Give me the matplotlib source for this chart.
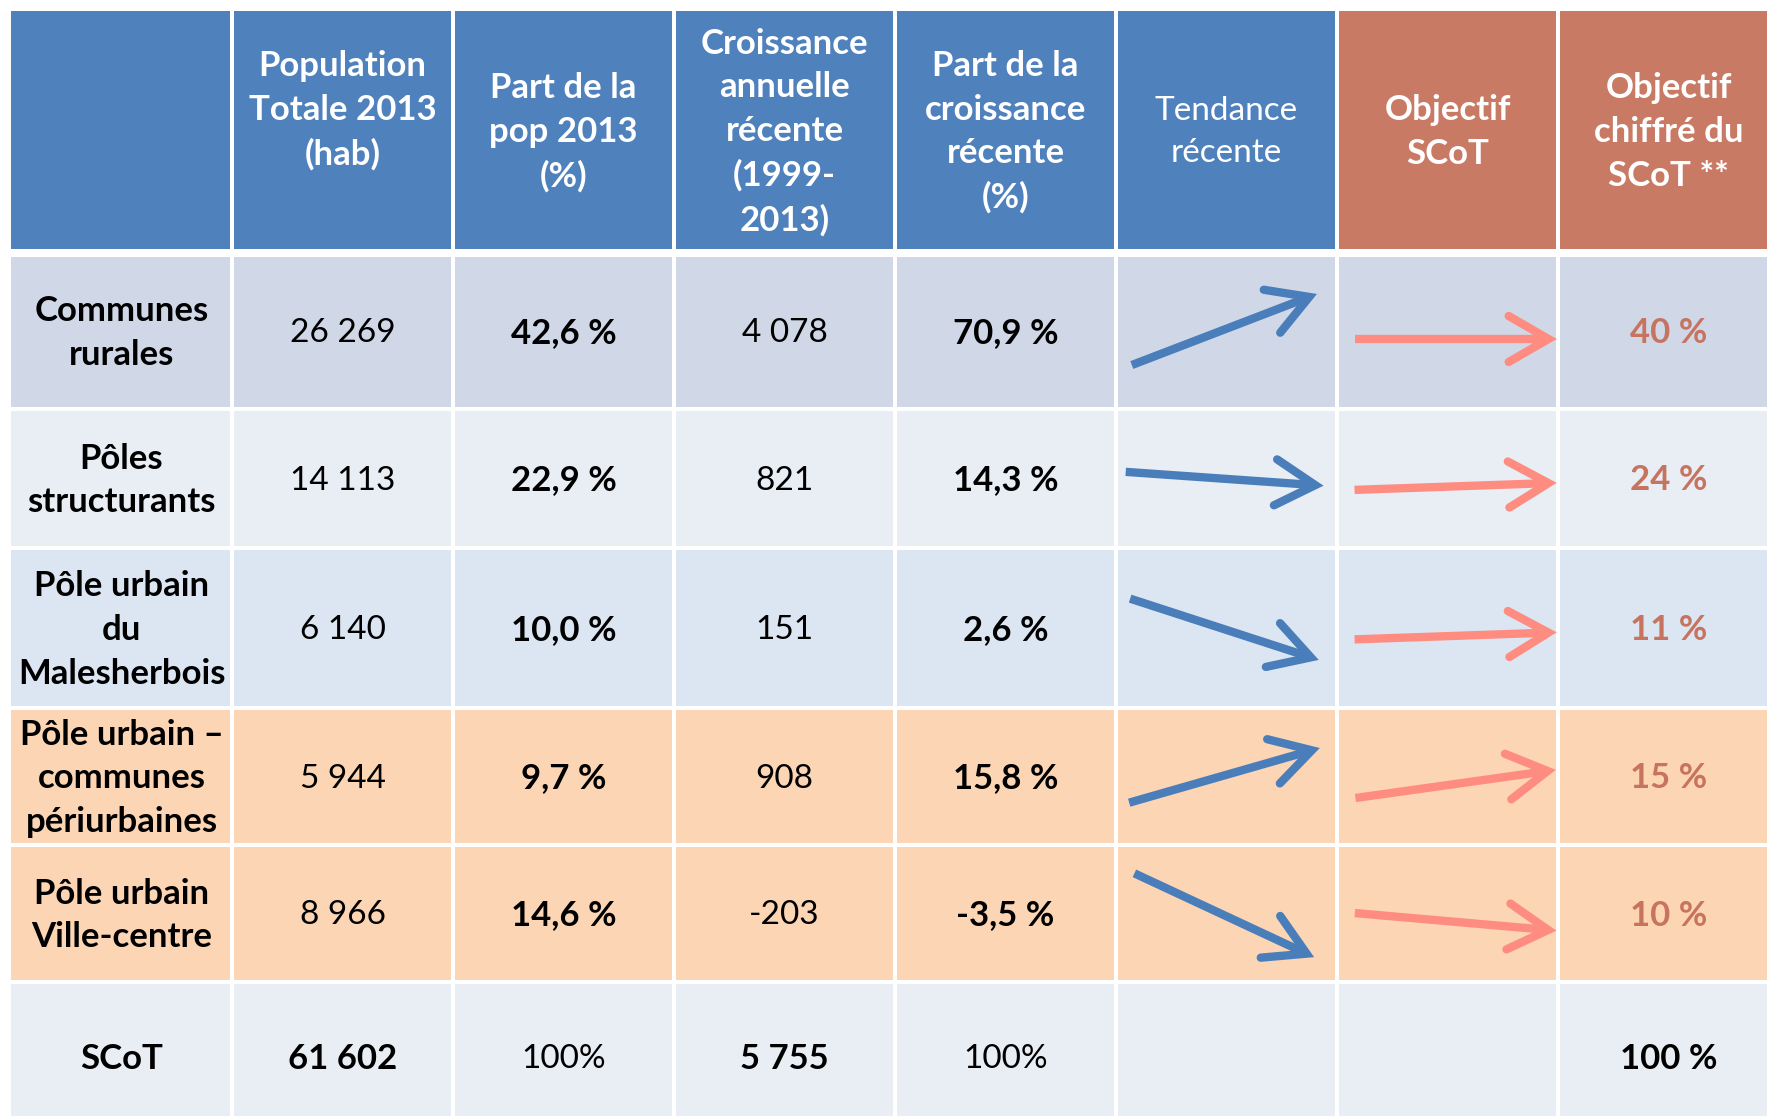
import numpy as np
import matplotlib
matplotlib.use("Agg")
import matplotlib.pyplot as plt
from matplotlib.patches import Rectangle

plt.rcParams['font.family'] = ['Lato', 'DejaVu Sans']

# ---- data ----
headers = ["", "Population\nTotale 2013\n(hab)\n", "Part de la\npop 2013\n(%)",
           "Croissance\nannuelle\nrécente\n(1999-\n2013)", "Part de la\ncroissance\nrécente\n(%)",
           "Tendance\nrécente", "Objectif\nSCoT", "Objectif\nchiffré du\nSCoT **"]
categories = ["Communes\nrurales", "Pôles\nstructurants", "Pôle urbain\ndu\nMalesherbois",
              "Pôle urbain –\ncommunes\npériurbaines", "Pôle urbain\nVille-centre", "SCoT"]
population = [26269, 14113, 6140, 5944, 8966, 61602]
part_pop = [42.6, 22.9, 10.0, 9.7, 14.6, 100]
croissance = [4078, 821, 151, 908, -203, 5755]
part_croissance = [70.9, 14.3, 2.6, 15.8, -3.5, 100]
objectif = [40, 24, 11, 15, 10, 100]
# arrow direction in degrees (recent trend / SCoT objective)
tendance_angle = [21, -4, -18, 16, -25]
objectif_angle = [0, 2, 2, 8, -5]

# ---- style ----
blue_head = '#4F81BD'
red_head = '#C97A65'
row_colors = ['#D0D8E8', '#E9EDF4', '#DCE6F2', '#FCD5B5', '#FCD5B5', '#E9EDF4']
arrow_blue = '#4A7EBB'
arrow_red = '#FF8C80'
obj_color = '#C6745F'
fs_b = 25
fs_r = 24
ls = 1.45

W, H = 1767, 1116
x0, col_w = 11, 221
row_h = [242, 156, 139, 160, 137, 137, 150]
gap = 3.5

fig = plt.figure(figsize=(W / 100, H / 100), dpi=100)
ax = fig.add_axes([0, 0, 1, 1])
ax.set_xlim(0, W)
ax.set_ylim(H, 0)
ax.axis('off')

tops = 11 + np.concatenate([[0], np.cumsum(row_h)[:-1]])


def fmt_int(v):
    return f"{v:,}".replace(",", " ")


def fmt_pct(v):
    return f"{v:.1f}".replace(".", ",") + " %"


def arrow(cx, cy, angle, length, color, lw):
    a = np.radians(angle)
    u = np.array([np.cos(a), -np.sin(a)])
    c = np.array([cx, cy])
    tail = c - u * length / 2
    tip = c + u * length / 2
    ax.plot([tail[0], tip[0] - u[0] * 5], [tail[1], tip[1] - u[1] * 5],
            color=color, lw=lw, solid_capstyle='butt', zorder=3)
    hl, ang = 46, np.radians(30)
    pts = []
    for s in (1, -1):
        r = np.array([[np.cos(s * ang), -np.sin(s * ang)], [np.sin(s * ang), np.cos(s * ang)]])
        pts.append(tip - hl * (r @ u))
    ax.plot([pts[0][0], tip[0], pts[1][0]], [pts[0][1], tip[1], pts[1][1]],
            color=color, lw=lw, solid_capstyle='round', solid_joinstyle='miter', zorder=3)


for r in range(7):
    top = tops[r]
    h = row_h[r]
    gtop = gap if r != 1 else 7
    for c in range(8):
        left = x0 + c * col_w
        if r == 0:
            fc = red_head if c >= 6 else blue_head
        else:
            fc = row_colors[r - 1]
        ax.add_patch(Rectangle((left + (0 if c == 0 else gap / 2), top + (0 if r == 0 else gtop / 2)),
                               col_w - (gap / 2 if c == 0 else gap),
                               h - (gtop / 2 if r > 0 else 0) - gap / 2 - (2 if r == 0 else 0),
                               facecolor=fc, edgecolor='none', zorder=1))

# header
for c, txt in enumerate(headers):
    ax.text(x0 + (c + 0.5) * col_w, tops[0] + row_h[0] / 2, txt, ha='center', va='center',
            multialignment='center', color='white',
            linespacing=ls * fs_b / fs_r if c == 5 else ls,
            fontsize=fs_r if c == 5 else fs_b,
            fontweight='normal' if c == 5 else 'bold', zorder=4)

# body
for i in range(6):
    cy = tops[i + 1] + row_h[i + 1] / 2 + 2
    last = i == 5
    cells = [
        (categories[i], 'bold', 'black'),
        (fmt_int(population[i]), 'bold' if last else 'normal', 'black'),
        ("100%" if last else fmt_pct(part_pop[i]), 'normal' if last else 'bold', 'black'),
        (fmt_int(croissance[i]), 'bold' if last else 'normal', 'black'),
        ("100%" if last else fmt_pct(part_croissance[i]), 'normal' if last else 'bold', 'black'),
    ]
    for c, (txt, fw, col) in enumerate(cells):
        ax.text(x0 + (c + 0.5) * col_w, cy, txt, ha='center', va='center',
                multialignment='center', linespacing=ls,
                fontsize=fs_b if fw == 'bold' else fs_r, fontweight=fw, color=col, zorder=4)
    ax.text(x0 + 7.5 * col_w, cy, f"{objectif[i]} %", ha='center', va='center', fontsize=fs_b,
            fontweight='bold', color='black' if last else obj_color, zorder=4)
    if not last:
        arrow(x0 + 5.5 * col_w - 6, cy - 2, tendance_angle[i], 190, arrow_blue, 6)
        arrow(x0 + 6.5 * col_w + 4, cy + 6, objectif_angle[i], 194, arrow_red, 6)

fig.savefig("out.png", dpi=100)
